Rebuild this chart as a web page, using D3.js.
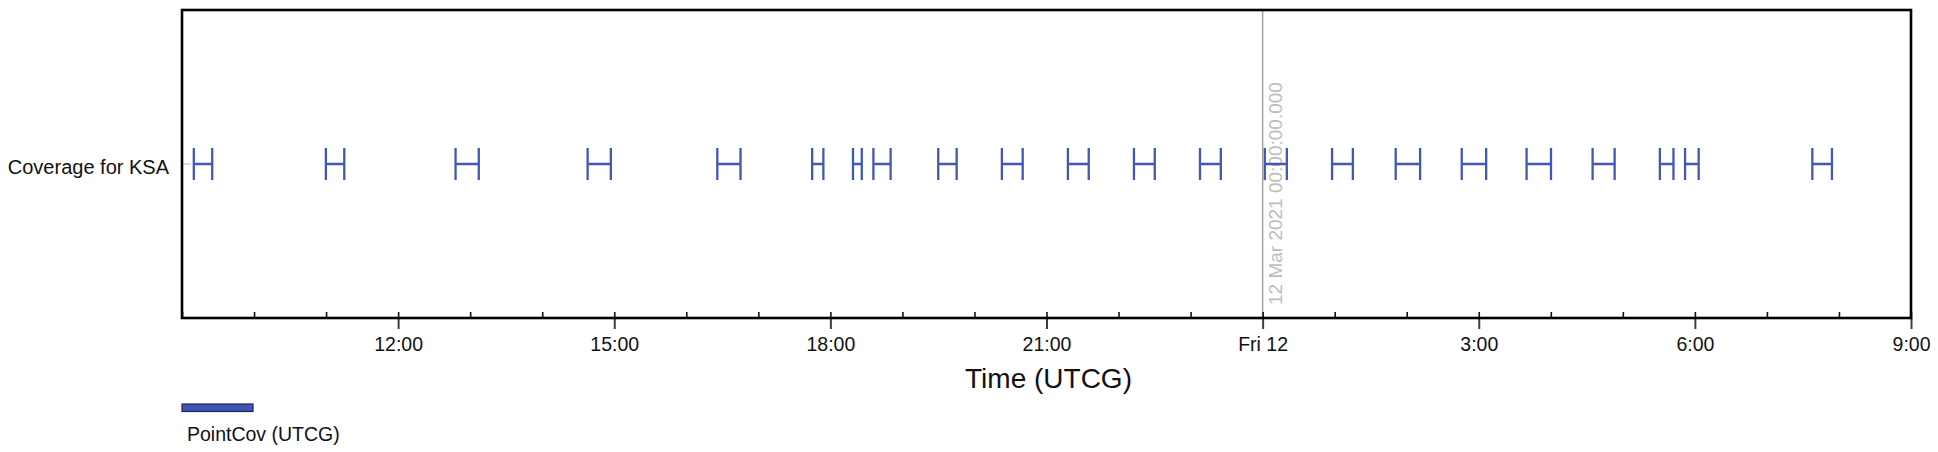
<!DOCTYPE html>
<html>
<head>
<meta charset="utf-8">
<script src="https://cdn.jsdelivr.net/npm/d3@7"></script>
<style>
  html, body { margin: 0; padding: 0; background: #fff; }
  svg { display: block; font-family: "Liberation Sans", Arial, sans-serif; }
</style>
</head>
<body>
<svg id="chart" width="1938" height="452"></svg>
<script>
// ---- data ----
const categories = ["Coverage for KSA"];
const timeDomain = ["2021-03-11T09:00:00Z", "2021-03-12T09:00:00Z"];
const intervalStarts = [
  "2021-03-11T09:09", "2021-03-11T10:59", "2021-03-11T12:47", "2021-03-11T14:37",
  "2021-03-11T16:25", "2021-03-11T17:44", "2021-03-11T18:18", "2021-03-11T18:35",
  "2021-03-11T19:29", "2021-03-11T20:22", "2021-03-11T21:17", "2021-03-11T22:12",
  "2021-03-11T23:07", "2021-03-12T00:01", "2021-03-12T00:57", "2021-03-12T01:50",
  "2021-03-12T02:45", "2021-03-12T03:39", "2021-03-12T04:34", "2021-03-12T05:30",
  "2021-03-12T05:51", "2021-03-12T07:37"
];
const intervalEnds = [
  "2021-03-11T09:26", "2021-03-11T11:16", "2021-03-11T13:08", "2021-03-11T14:58",
  "2021-03-11T16:46", "2021-03-11T17:55", "2021-03-11T18:27", "2021-03-11T18:51",
  "2021-03-11T19:46", "2021-03-11T20:41", "2021-03-11T21:36", "2021-03-11T22:31",
  "2021-03-11T23:26", "2021-03-12T00:21", "2021-03-12T01:16", "2021-03-12T02:12",
  "2021-03-12T03:07", "2021-03-12T04:01", "2021-03-12T04:54", "2021-03-12T05:43",
  "2021-03-12T06:04", "2021-03-12T07:55"
];
const majorTickTimes = [
  "2021-03-11T12:00Z", "2021-03-11T15:00Z", "2021-03-11T18:00Z", "2021-03-11T21:00Z",
  "2021-03-12T00:00Z", "2021-03-12T03:00Z", "2021-03-12T06:00Z", "2021-03-12T09:00Z"
];
const majorTickLabels = ["12:00", "15:00", "18:00", "21:00", "Fri 12", "3:00", "6:00", "9:00"];
const markerTime = "2021-03-12T00:00:00Z";
const markerLabel = "12 Mar 2021 00:00:00.000";
const xTitle = "Time (UTCG)";
const legendLabel = "PointCov (UTCG)";

// ---- layout ----
const parse = s => new Date(s.endsWith("Z") ? s : s + ":00Z");
const pLeft = 182, pRight = 1911, pTop = 10, pBottom = 318;
const blue = "#4357b7";

const svg = d3.select("#chart");
const x = d3.scaleUtc().domain(timeDomain.map(parse)).range([pLeft, pRight]);
const y = d3.scaleBand().domain(categories).range([pTop, pBottom]);

const intervals = intervalStarts.map((s, i) => ({ cat: categories[0], start: parse(s), end: parse(intervalEnds[i]) }));

// marker line
const mx = x(parse(markerTime));
svg.append("line")
  .attr("x1", mx).attr("x2", mx).attr("y1", pTop).attr("y2", pBottom)
  .attr("stroke", "#a3a3a3").attr("stroke-width", 1.5);
svg.append("text")
  .attr("transform", `translate(${mx + 19.5},${pBottom - 13}) rotate(-90)`)
  .attr("font-size", 19).attr("fill", "#bdbdbd")
  .text(markerLabel);

// y tick
const cy = y(categories[0]) + y.bandwidth() / 2;
svg.append("line")
  .attr("x1", pLeft).attr("x2", pLeft + 9).attr("y1", cy).attr("y2", cy)
  .attr("stroke", "#c9c9c9").attr("stroke-width", 1.2);

// intervals (H marks)
const capH = 16;
const g = svg.append("g").attr("stroke", blue).attr("stroke-width", 2.3).attr("fill", "none");
intervals.forEach(d => {
  const x0 = x(d.start) + 1, x1 = x(d.end) - 1;
  const yc = y(d.cat) + y.bandwidth() / 2;
  g.append("path")
    .attr("d", `M${x0},${yc - capH}V${yc + capH}M${x1},${yc - capH}V${yc + capH}M${x0},${yc}H${x1}`);
});

// minor ticks (hourly, inward)
const minorAxis = d3.axisBottom(x).ticks(d3.utcHour.every(1)).tickSizeInner(-6).tickSizeOuter(0).tickFormat("");
const gMinor = svg.append("g").attr("transform", `translate(0,${pBottom})`).call(minorAxis);
gMinor.select(".domain").remove();
gMinor.selectAll(".tick line").attr("stroke", "#111").attr("stroke-width", 1.6);

// major ticks with labels
const majorAxis = d3.axisBottom(x)
  .tickValues(majorTickTimes.map(parse))
  .tickFormat((d, i) => majorTickLabels[i])
  .tickSizeInner(11).tickSizeOuter(0).tickPadding(7);
const gMajor = svg.append("g").attr("transform", `translate(0,${pBottom})`).call(majorAxis);
gMajor.select(".domain").remove();
gMajor.selectAll(".tick line").attr("stroke", "#3a3f4a").attr("stroke-width", 2);
gMajor.selectAll(".tick text")
  .attr("font-size", 19.5).attr("fill", "#111").attr("font-family", "'Liberation Sans', Arial, sans-serif")
  .attr("dy", null).attr("y", 33);

// frame
svg.append("rect")
  .attr("x", pLeft).attr("y", pTop).attr("width", pRight - pLeft).attr("height", pBottom - pTop)
  .attr("fill", "none").attr("stroke", "#000").attr("stroke-width", 2.6);

// category label
svg.append("text")
  .attr("x", pLeft - 13).attr("y", cy + 10).attr("text-anchor", "end")
  .attr("font-size", 20).attr("fill", "#111")
  .text(categories[0]);

// x title
svg.append("text")
  .attr("x", (pLeft + pRight) / 2 + 2).attr("y", 388).attr("text-anchor", "middle")
  .attr("font-size", 28).attr("fill", "#111")
  .text(xTitle);

// legend
svg.append("rect")
  .attr("x", 182).attr("y", 404).attr("width", 71).attr("height", 7.5)
  .attr("fill", "#3f55b3").attr("stroke", "#1c2560").attr("stroke-width", 1.2);
svg.append("text")
  .attr("x", 187).attr("y", 441).attr("font-size", 19.5).attr("fill", "#111")
  .text(legendLabel);
</script>
</body>
</html>
